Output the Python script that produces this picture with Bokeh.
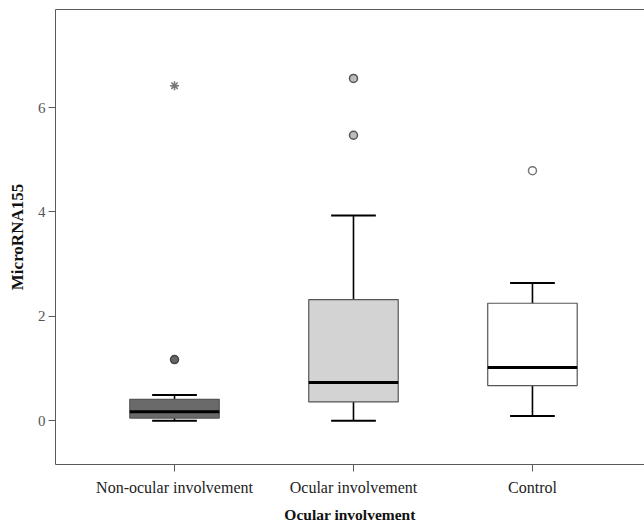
from bokeh.plotting import figure
from bokeh.models import Range1d, FixedTicker, LinearAxis, ColumnDataSource
from bokeh.embed import file_html
from bokeh.resources import INLINE
import numpy as np

# ---- data ----
categories = ["Non-ocular involvement", "Ocular involvement", "Control"]
q1 = [0.05, 0.36, 0.67]
median = [0.17, 0.73, 1.02]
q3 = [0.41, 2.32, 2.25]
whisker_low = [0.0, 0.0, 0.09]
whisker_high = [0.49, 3.93, 2.64]
box_fill = ["#6a6a6a", "#d3d3d3", "#ffffff"]

outlier_group = [0, 1, 1, 2]
outlier_value = [1.17, 6.56, 5.47, 4.79]
outlier_fill = ["#666666", "#bdbdbd", "#bdbdbd", "#ffffff"]
outlier_line = ["#444444", "#555555", "#555555", "#777777"]

extreme_group = [0]
extreme_value = [6.42]

y_ticks = [0, 2, 4, 6]
x_label = "Ocular involvement"
y_label = "MicroRNA155"

FONT = "Liberation Serif"

xpos = np.arange(1, len(categories) + 1)
box_w = 0.5
cap_w = 0.25

box_src = ColumnDataSource(dict(
    x=xpos, q1=q1, q3=q3, med=median, lo=whisker_low, hi=whisker_high,
    fill=box_fill,
    left=xpos - box_w / 2, right=xpos + box_w / 2,
    cl=xpos - cap_w / 2, cr=xpos + cap_w / 2,
))

out_src = ColumnDataSource(dict(
    x=[xpos[g] for g in outlier_group], y=outlier_value,
    fill=outlier_fill, line=outlier_line,
))
ext_src = ColumnDataSource(dict(
    x=[xpos[g] for g in extreme_group], y=extreme_value,
))

p = figure(width=644, height=525, output_backend="svg", toolbar_location=None,
           x_range=Range1d(0.335, 3.626), y_range=Range1d(-0.84, 7.88),
           min_border_left=55, min_border_right=0, min_border_top=9,
           min_border_bottom=61, x_axis_location=None, y_axis_location=None)
p.outline_line_color = None
p.xgrid.visible = False
p.ygrid.visible = False
p.background_fill_color = "white"
p.border_fill_color = "white"

AX = "#5a5a5a"

xaxis = LinearAxis(ticker=FixedTicker(ticks=list(xpos)),
                   major_label_overrides={int(i): c for i, c in zip(xpos, categories)})
xaxis.axis_label = x_label
yaxis = LinearAxis(ticker=FixedTicker(ticks=y_ticks))
yaxis.axis_label = y_label
topaxis = LinearAxis(ticker=FixedTicker(ticks=[]), major_label_text_font_size="0px",
                     major_tick_line_color=None, minor_tick_line_color=None)
topaxis.axis_line_color = AX

for ax in (xaxis, yaxis):
    ax.axis_line_color = AX
    ax.major_tick_line_color = AX
    ax.minor_tick_line_color = None
    ax.major_tick_in = 0
    ax.major_tick_out = 7
    ax.major_label_text_font = FONT
    ax.major_label_text_font_size = "16px"
    ax.axis_label_text_font = FONT
    ax.axis_label_text_font_style = "bold"
    ax.axis_label_text_color = "#111111"
xaxis.axis_label_text_font_size = "15.5px"
yaxis.axis_label_text_font_size = "17px"
xaxis.major_label_text_color = "#222222"
yaxis.major_label_text_color = "#555555"
yaxis.major_label_text_font_size = "15px"
xaxis.major_label_standoff = 7
xaxis.axis_label_standoff = 7
yaxis.major_label_standoff = 3
yaxis.axis_label_standoff = 8
yaxis.major_label_orientation = 0

p.add_layout(xaxis, "below")
p.add_layout(yaxis, "left")
p.add_layout(topaxis, "above")

# whiskers
p.segment(x0="x", y0="q3", x1="x", y1="hi", source=box_src, line_color="black", line_width=1.6)
p.segment(x0="x", y0="q1", x1="x", y1="lo", source=box_src, line_color="black", line_width=1.6)
p.segment(x0="cl", y0="hi", x1="cr", y1="hi", source=box_src, line_color="black", line_width=2)
p.segment(x0="cl", y0="lo", x1="cr", y1="lo", source=box_src, line_color="black", line_width=2)
# boxes
p.quad(left="left", right="right", bottom="q1", top="q3", source=box_src,
       fill_color="fill", line_color="#555555", line_width=1.2)
# median
p.segment(x0="left", y0="med", x1="right", y1="med", source=box_src, line_color="black", line_width=3)
# outliers
p.scatter(x="x", y="y", source=out_src, size=8, marker="circle",
          fill_color="fill", line_color="line", line_width=1.5)
p.scatter(x="x", y="y", source=ext_src, size=9, marker="asterisk",
          line_color="#777777", line_width=1.5)

open("out.html", "w").write(file_html(p, INLINE))
